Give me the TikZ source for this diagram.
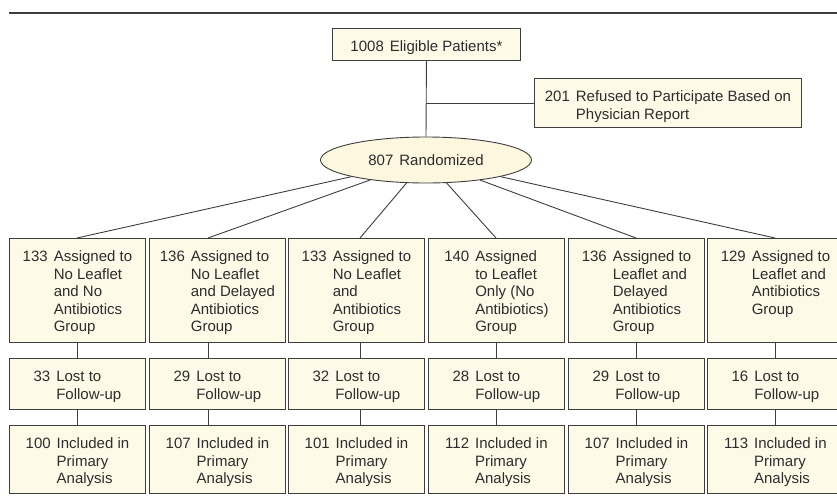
\documentclass[tikz,border=0pt]{standalone}
\usepackage{fontspec}
\setmainfont{Liberation Sans}
\usetikzlibrary{shapes.geometric}
\definecolor{boxfill}{RGB}{254,250,232}
\definecolor{ellfill}{RGB}{252,247,222}
\definecolor{edge}{RGB}{62,62,62}
\definecolor{ink}{RGB}{45,45,45}
\newcommand\numtxt[2]{\begin{tabular}[t]{@{}l@{\hspace{6pt}}l@{}}#1 & #2\end{tabular}}
\begin{document}
\begin{tikzpicture}[x=1pt,y=-1pt,
  font=\fontsize{15}{17.6}\selectfont, text=ink,
  box/.style={draw=edge, fill=boxfill, line width=0.9pt, inner sep=0pt,
    minimum width=136pt, anchor=north west, text height=23pt},
  rowa/.style={box, text depth=81pt},
  rowb/.style={box, text depth=28pt},
  rowc/.style={box, text depth=45pt},
  link/.style={draw=edge, line width=0.9pt}]
\useasboundingbox (0,0) rectangle (837,503);

% top rule
\coordinate (rl) at (9,13);
\coordinate (rr) at (837,13);
\draw[draw=edge, line width=1.2pt] (rl) -- (rr);

% top boxes
\node[box, minimum width=188pt, text depth=9pt] (elig) at (332,28)
  {1008\hspace{6pt}Eligible Patients*};
\node[box, minimum width=267pt, text depth=26pt] (ref) at (534,78)
  {\numtxt{201}{Refused to Participate Based on\\ & Physician Report}};
\node[ellipse, draw=edge, fill=ellfill, line width=0.9pt, inner sep=0pt,
  minimum width=211pt, minimum height=46pt] (ell) at (426,160)
  {807\hspace{6pt}Randomized};

\draw[link] (elig.south) -- (ell.north);
\draw[link] (ref.west) -- (ref.west -| elig.south);

% connector x positions
\coordinate (c1) at (77,0);
\coordinate (c2) at (208,0);
\coordinate (c3) at (360,0);
\coordinate (c4) at (496,0);
\coordinate (c5) at (636,0);
\coordinate (c6) at (775,0);

% row 1
\node[rowa] (a1) at (9,238)   {\numtxt{133}{Assigned to\\ & No Leaflet\\ & and No\\ & Antibiotics\\ & Group}};
\node[rowa] (a2) at (149,238) {\numtxt{136}{Assigned to\\ & No Leaflet\\ & and Delayed\\ & Antibiotics\\ & Group}};
\node[rowa] (a3) at (288,238) {\numtxt{133}{Assigned to\\ & No Leaflet\\ & and\\ & Antibiotics\\ & Group}};
\node[rowa] (a4) at (428,238) {\numtxt{140}{Assigned\\ & to Leaflet\\ & Only (No\\ & Antibiotics)\\ & Group}};
\node[rowa] (a5) at (568,238) {\numtxt{136}{Assigned to\\ & Leaflet and\\ & Delayed\\ & Antibiotics\\ & Group}};
\node[rowa] (a6) at (707,238) {\numtxt{129}{Assigned to\\ & Leaflet and\\ & Antibiotics\\ & Group}};

% row 2
\node[rowb] (b1) at (9,358)   {\numtxt{33}{Lost to\\ & Follow-up}};
\node[rowb] (b2) at (149,358) {\numtxt{29}{Lost to\\ & Follow-up}};
\node[rowb] (b3) at (288,358) {\numtxt{32}{Lost to\\ & Follow-up}};
\node[rowb] (b4) at (428,358) {\numtxt{28}{Lost to\\ & Follow-up}};
\node[rowb] (b5) at (568,358) {\numtxt{29}{Lost to\\ & Follow-up}};
\node[rowb] (b6) at (707,358) {\numtxt{16}{Lost to\\ & Follow-up}};

% row 3
\node[rowc] (r1) at (9,425)   {\numtxt{100}{Included in\\ & Primary\\ & Analysis}};
\node[rowc] (r2) at (149,425) {\numtxt{107}{Included in\\ & Primary\\ & Analysis}};
\node[rowc] (r3) at (288,425) {\numtxt{101}{Included in\\ & Primary\\ & Analysis}};
\node[rowc] (r4) at (428,425) {\numtxt{112}{Included in\\ & Primary\\ & Analysis}};
\node[rowc] (r5) at (568,425) {\numtxt{107}{Included in\\ & Primary\\ & Analysis}};
\node[rowc] (r6) at (707,425) {\numtxt{113}{Included in\\ & Primary\\ & Analysis}};

\foreach \i in {1,...,6}{
  \draw[link] (ell) -- (a\i.north -| c\i);
  \draw[link] (a\i.south -| c\i) -- (b\i.north -| c\i);
  \draw[link] (b\i.south -| c\i) -- (r\i.north -| c\i);
}
\end{tikzpicture}
\end{document}
